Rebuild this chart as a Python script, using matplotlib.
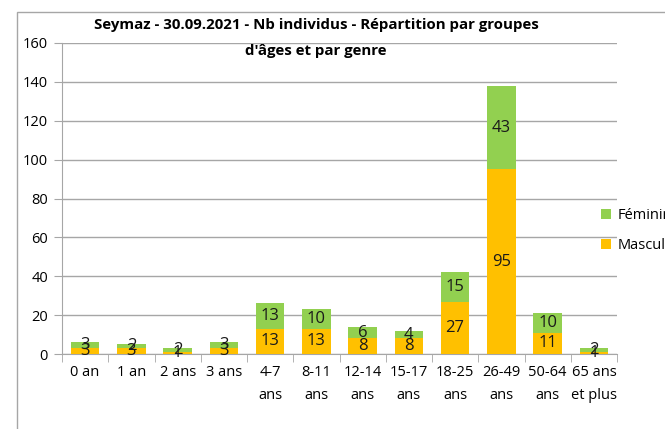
import numpy as np
import matplotlib
matplotlib.use("Agg")
from matplotlib import pyplot as plt
from matplotlib.patches import Rectangle

categories = ["0 an", "1 an", "2 ans", "3 ans", "4-7\nans", "8-11\nans", "12-14\nans",
              "15-17\nans", "18-25\nans", "26-49\nans", "50-64\nans", "65 ans\net plus"]
masculin = [3, 3, 1, 3, 13, 13, 8, 8, 27, 95, 11, 1]
feminin = [3, 2, 2, 3, 13, 10, 6, 4, 15, 43, 10, 2]

plt.rcParams['font.family'] = ['Open Sans', 'DejaVu Sans']

fig = plt.figure(figsize=(6.65, 4.29), dpi=100)
ax = fig.add_axes([62/665, 1-354/429, (617-62)/665, (354-43)/429])

x = np.arange(len(categories))
b1 = ax.bar(x, masculin, width=0.62, color='#FFC000', label='Masculin', zorder=3)
b2 = ax.bar(x, feminin, width=0.62, bottom=masculin, color='#92D050', label='Féminin', zorder=3)
ax.bar_label(b1, label_type='center', fontsize=12, color='#1a1a1a')
ax.bar_label(b2, label_type='center', fontsize=12, color='#1a1a1a')

ax.set_xlim(-0.5, len(categories)-0.5)
ax.set_ylim(0, 160)
ax.set_yticks(range(0, 161, 20))
ax.yaxis.grid(True, color='#a6a6a6', linewidth=1, zorder=0)
ax.tick_params(axis='y', length=6, color='#a6a6a6', labelsize=10.5, pad=4)
ax.set_xticks(x)
ax.set_xticklabels(categories, fontsize=10.5, va='top', linespacing=1.75)
ax.set_xticks(np.arange(-0.5, len(categories), 1), minor=True)
ax.tick_params(axis='x', which='major', length=0, pad=8)
ax.tick_params(axis='x', which='minor', length=6, color='#a6a6a6')
for s in ['top', 'right']:
    ax.spines[s].set_visible(False)
for s in ['left', 'bottom']:
    ax.spines[s].set_color('#a6a6a6')

h, l = ax.get_legend_handles_labels()
fig.legend(h[::-1], l[::-1], loc='upper left', bbox_to_anchor=(588/665, 1-195/429),
           frameon=False, fontsize=10.5, handlelength=0.7, handleheight=0.7,
           handletextpad=0.4, labelspacing=1.0)

fig.text(316/665, 1-25/429, "Seymaz - 30.09.2021 - Nb individus - Répartition par groupes",
         ha='center', va='center', fontsize=10.8, fontweight='bold')
fig.text(316/665, 1-51/429, "d'âges et par genre",
         ha='center', va='center', fontsize=10.8, fontweight='bold')

fig.patches.append(Rectangle((17/665, -0.1), 1.2, 1.1-12/429, transform=fig.transFigure,
                             fill=False, edgecolor='#a6a6a6', linewidth=1))

fig.savefig("out.png", dpi=100)
